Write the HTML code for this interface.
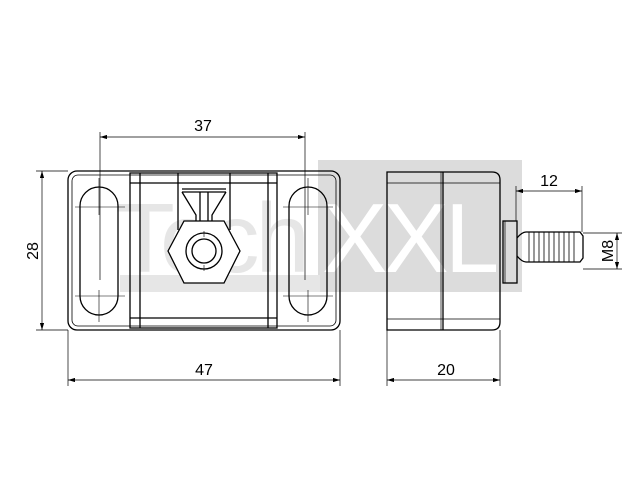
<!DOCTYPE html>
<html><head><style>body{margin:0;background:#fff}svg{display:block}</style></head>
<body>
<svg width="640" height="480" viewBox="0 0 640 480" xmlns="http://www.w3.org/2000/svg" font-family="Liberation Sans, sans-serif">
<defs><marker id="a" markerWidth="10" markerHeight="6" refX="10" refY="3" orient="auto-start-reverse"><path d="M0,0 L10,3 L0,6 Z" fill="#000"/></marker></defs>
<!-- watermark -->
<rect x="318" y="160" width="204" height="132" fill="#dcdcdc"/>
<rect x="120" y="275" width="200" height="17" fill="#e6e6e6"/>
<text x="115" y="272" font-size="98" fill="#e6e6e6" letter-spacing="-4">Tech</text>
<text x="322" y="272" font-size="98" fill="#fff" letter-spacing="-4">XXL</text>
<g fill="none" stroke="#000" stroke-width="1.3">
<!-- left view -->
<rect x="68" y="171" width="272" height="159" rx="9"/>
<rect x="72" y="175" width="264" height="151" rx="6" stroke-width="0.8"/>
<rect x="130" y="173" width="147" height="155"/>
<line x1="140" y1="173" x2="140" y2="328"/><line x1="268" y1="173" x2="268" y2="328"/>
<line x1="130" y1="183" x2="277" y2="183"/><line x1="130" y1="318" x2="277" y2="318"/>
<rect x="80" y="187" width="38" height="128" rx="19"/>
<rect x="289" y="187" width="38" height="128" rx="19"/>
<path d="M178,173 V230 M230,173 V230"/>
<path d="M182,189 H226 M182,192 H226"/>
<path d="M182,192 L196,215 V225 M226,192 L212,215 V225 M200,192 V222 M208,192 V222"/>
<polygon points="168,251 184,221 224,221 240,251 224,283 184,283" fill="#fff"/>
<circle cx="204" cy="251" r="18"/><circle cx="204" cy="251" r="12"/>
<g stroke-width="0.6">
<path d="M99,178 V215 M99,290 V322 M75,207 H125 M75,296 H125"/>
<path d="M308,178 V215 M308,290 V322 M283,207 H333 M283,296 H333"/>
<path d="M204,231 V237 M204,265 V271"/>
</g>
<!-- right view -->
<path d="M387,172 H492 Q500,172 500,180 V322 Q500,330 492,330 H387 Z"/>
<line x1="443" y1="172" x2="443" y2="330"/><line x1="441" y1="172" x2="441" y2="330" stroke-width="0.7"/>
<line x1="387" y1="183" x2="500" y2="183" stroke-width="0.8"/><line x1="387" y1="319" x2="500" y2="319" stroke-width="0.8"/>
<rect x="503" y="221" width="14" height="62"/>
<line x1="505" y1="221" x2="505" y2="283" stroke-width="0.7"/>
<path d="M517,238 Q522,232 526,232 H580 L583,236 V258 L580,262 H526 Q522,262 517,256"/>
<path d="M529,232 V262 M534,232 V262 M539,232 V262 M544,232 V262 M549,232 V262 M554,232 V262 M559,232 V262 M564,232 V262 M569,232 V262 M574,232 V262" stroke-width="0.8"/>
</g>
<!-- dimensions -->
<g stroke="#000" stroke-width="0.7" fill="none">
<path d="M100,132 V280 M305,132 V280"/>
<line x1="100" y1="137" x2="305" y2="137" marker-start="url(#a)" marker-end="url(#a)"/>
<path d="M36,171 H68 M36,330 H68"/>
<line x1="42" y1="171" x2="42" y2="330" marker-start="url(#a)" marker-end="url(#a)"/>
<path d="M68,330 V386 M340,330 V386 M387,330 V386 M500,330 V386"/>
<line x1="68" y1="380" x2="340" y2="380" marker-start="url(#a)" marker-end="url(#a)"/>
<line x1="387" y1="380" x2="500" y2="380" marker-start="url(#a)" marker-end="url(#a)"/>
<path d="M516,186 V221 M582,186 V232"/>
<line x1="516" y1="191" x2="582" y2="191" marker-start="url(#a)" marker-end="url(#a)"/>
<path d="M583,233 H622 M583,269 H622"/>
<line x1="617" y1="233" x2="617" y2="269" marker-start="url(#a)" marker-end="url(#a)"/>
</g>
<g font-size="16" fill="#000" text-anchor="middle">
<text x="203" y="131">37</text>
<text x="446" y="375">20</text>
<text x="204" y="375">47</text>
<text x="549" y="186">12</text>
<text transform="translate(38,251) rotate(-90)">28</text>
<text transform="translate(613,251) rotate(-90)">M8</text>
</g>
</svg>
</body></html>
